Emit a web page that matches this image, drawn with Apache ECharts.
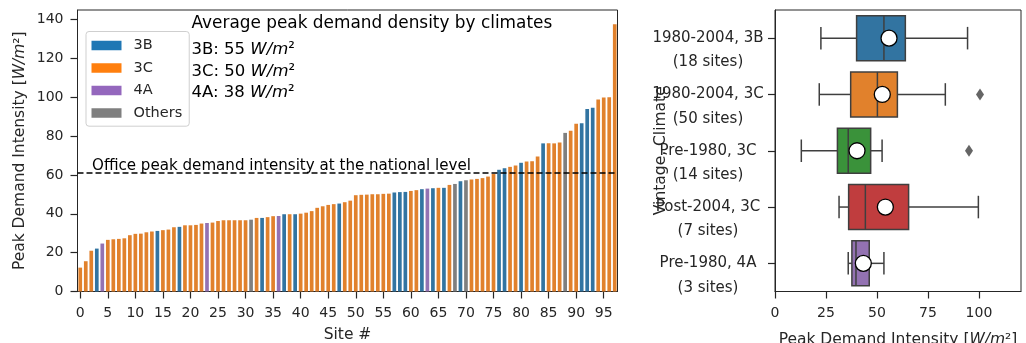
<!DOCTYPE html>
<html><head><meta charset="utf-8">
<script src="https://cdn.jsdelivr.net/npm/echarts@6/dist/echarts.min.js"></script>
<style>html,body{margin:0;padding:0;background:#fff}#c{width:1026px;height:343px}</style>
</head><body><div id="c"></div>
<script>
// ---------- data: left bar chart ----------
const siteValues = [
  12.3,15.6,21.0,22.1,24.7,26.6,26.9,27.1,27.4,29.0,
  29.7,29.8,30.5,30.9,31.2,31.6,31.9,33.1,33.3,34.1,
  34.1,34.3,35.0,35.3,35.5,36.3,36.7,36.7,36.7,36.7,
  36.7,37.0,37.9,37.9,38.3,38.8,38.9,39.8,39.8,39.8,
  40.1,40.6,41.4,43.1,43.9,44.6,45.0,45.3,46.0,46.8,
  49.6,49.8,49.9,50.1,50.1,50.3,50.4,51.0,51.2,51.3,
  51.8,52.2,52.7,53.0,53.2,53.4,53.4,54.9,55.4,56.8,
  57.3,57.7,58.0,58.4,59.2,60.5,62.7,63.5,64.2,64.9,
  66.3,67.0,67.1,69.5,76.3,76.3,76.3,76.8,81.7,82.8,
  86.4,86.7,94.0,94.6,98.9,99.9,100.1,137.6
];
const siteClimates = [
  '3C','3C','3C','3B','4A','3C','3C','3C','3C','3C',
  '3C','3C','3C','3C','3B','3C','3C','3C','3B','3C',
  '3C','3C','3C','4A','3C','3C','3C','3C','3C','3C',
  '3C','Others','3C','3B','3C','3C','4A','3B','3C','3B',
  '3C','3C','3C','3C','3C','3C','3C','3B','3C','3C',
  '3C','3C','3C','3C','3C','3C','3C','3B','3B','3B',
  '3C','3C','3B','4A','3B','3C','3B','3C','Others','3B',
  'Others','3C','3C','3C','3C','3C','3B','3B','3C','3C',
  '3B','3C','3C','3C','3B','3C','3C','3C','Others','3C',
  '3C','3B','3B','3B','3C','3C','3C','3C'
];
const climateNames = ['3B','3C','4A','Others'];
const nationalLevel = 61;
const leftYTicks = [0,20,40,60,80,100,120,140];
const averageLines = [['3B','55'],['3C','50'],['4A','38']];

// ---------- data: right box plot ----------
const boxCategories = [
  ['1980-2004, 3B','(18 sites)'],
  ['1980-2004, 3C','(50 sites)'],
  ['Pre-1980, 3C','(14 sites)'],
  ['Post-2004, 3C','(7 sites)'],
  ['Pre-1980, 4A','(3 sites)']
];
// [whisker low, Q1, median, Q3, whisker high]
const boxStats = [
  [22.5,40.0,53.4,63.9,94.4],
  [21.7,37.1,50.2,60.0,83.5],
  [12.9,30.6,35.9,46.9,52.5],
  [31.4,36.1,44.3,65.5,99.7],
  [35.9,37.7,39.7,46.2,53.4]
];
const boxMeans = [55.9,52.6,40.2,54.1,43.3];
const boxOutliers = [[100.5,1],[95.1,2]];
const rightXTicks = [0,25,50,75,100];

// ---------- styles ----------
const FONT = 'DejaVu Sans';
const INK = '#262626';
const barColors = {'3B':'#3274a1','3C':'#e1812c','4A':'#9372b2','Others':'#7f7f7f'};
const legendColors = {'3B':'#1f77b4','3C':'#ff7f0e','4A':'#9467bd','Others':'#7f7f7f'};
const boxColors = ['#3274a1','#e1812c','#3a923a','#c03d3e','#9372b2'];
const LINE = '#3f3f3f';

const siteIds = siteValues.map((v,i)=>String(i));

const barSeries = climateNames.map(c => ({
  name: c, type: 'bar', xAxisIndex: 0, yAxisIndex: 0,
  barWidth: '67%', barGap: '-100%',
  itemStyle: {color: barColors[c]},
  data: siteValues.map((v,i)=> siteClimates[i]===c ? v : '-'),
  animation: false
}));
barSeries[1].markLine = {
  silent: true, symbol: 'none', animation: false,
  label: {show: false},
  lineStyle: {type: [6,3], color: '#000', width: 1.5},
  data: [{yAxis: nationalLevel}]
};

const unitRich = (size) => ({
  i: {fontStyle: 'italic', fontSize: size, fontFamily: FONT, color: INK},
  n: {fontSize: size, fontFamily: FONT, color: INK}
});

function renderBox(params, api) {
  const y = api.value(0);
  const lo = api.coord([api.value(1), y]);
  const q1 = api.coord([api.value(2), y]);
  const md = api.coord([api.value(3), y]);
  const q3 = api.coord([api.value(4), y]);
  const hi = api.coord([api.value(5), y]);
  const band = api.size([0, 1])[1];
  const h = band * 0.8, cy = lo[1], cap = h / 4;
  const ls = {stroke: LINE, lineWidth: 1.5};
  return {type: 'group', children: [
    {type:'line', shape:{x1:lo[0],y1:cy,x2:q1[0],y2:cy}, style:ls},
    {type:'line', shape:{x1:q3[0],y1:cy,x2:hi[0],y2:cy}, style:ls},
    {type:'line', shape:{x1:lo[0],y1:cy-cap,x2:lo[0],y2:cy+cap}, style:ls},
    {type:'line', shape:{x1:hi[0],y1:cy-cap,x2:hi[0],y2:cy+cap}, style:ls},
    {type:'rect', shape:{x:q1[0],y:cy-h/2,width:q3[0]-q1[0],height:h},
      style:{fill: boxColors[params.dataIndex], stroke: LINE, lineWidth: 1.5}},
    {type:'line', shape:{x1:md[0],y1:cy-h/2,x2:md[0],y2:cy+h/2}, style:ls}
  ]};
}

const chart = echarts.init(document.getElementById('c'), null, {renderer: 'canvas'});
const option = {
  animation: false,
  backgroundColor: '#fff',
  textStyle: {fontFamily: FONT},
  grid: [
    {left: 77.5, top: 10, width: 540, bottom: 51.5, show: true, borderColor: INK, borderWidth: 1, containLabel: false, outerBoundsMode: 'none'},
    {left: 775, top: 10, right: 5, bottom: 51.5, show: true, borderColor: INK, borderWidth: 1, containLabel: false, outerBoundsMode: 'none'}
  ],
  legend: {
    orient: 'vertical', left: 86, top: 31.5,
    itemWidth: 30, itemHeight: 9.5, itemGap: 7.5,
    padding: [6.5, 7, 5.7, 5.5],
    borderColor: '#cfcfcf', borderWidth: 1, borderRadius: 3,
    backgroundColor: 'rgba(255,255,255,0.85)',
    selectedMode: false,
    textStyle: {fontSize: 14.5, fontFamily: FONT, color: INK, padding: [0,0,0,7], lineHeight: 15},
    data: climateNames.map(c => ({name: c, icon: 'rect', itemStyle: {color: legendColors[c]}}))
  },
  xAxis: [
    {
      type: 'category', gridIndex: 0, data: siteIds, boundaryGap: true,
      axisLine: {show: true, lineStyle: {color: INK, width: 1}},
      axisTick: {show: true, alignWithLabel: true, interval: 4, length: 7, lineStyle: {color: INK, width: 1.2}},
      axisLabel: {interval: 4, margin: 15, fontSize: 14, color: INK, fontFamily: FONT},
      name: 'Site #', nameLocation: 'middle', nameGap: 35, nameMoveOverlap: false,
      nameTextStyle: {fontSize: 15.5, color: INK, fontFamily: FONT},
      splitLine: {show: false}
    },
    {
      type: 'value', gridIndex: 1, min: 0, max: 120.6,
      axisLine: {show: true, onZero: false, lineStyle: {color: INK, width: 1}},
      axisTick: {show: true, length: 7, customValues: rightXTicks, lineStyle: {color: INK, width: 1.2}},
      axisLabel: {customValues: rightXTicks, margin: 15, fontSize: 14, color: INK, fontFamily: FONT},
      splitLine: {show: false},
      name: 'Peak Demand Intensity [{i|W/m}{n|²}]', nameLocation: 'middle', nameGap: 40, nameMoveOverlap: false,
      nameTextStyle: {fontSize: 15.5, color: INK, fontFamily: FONT, rich: unitRich(15.5)}
    }
  ],
  yAxis: [
    {
      type: 'value', gridIndex: 0, min: 0, max: 145,
      axisLine: {show: true, lineStyle: {color: INK, width: 1}},
      axisTick: {show: true, length: 7, customValues: leftYTicks, lineStyle: {color: INK, width: 1.2}},
      axisLabel: {customValues: leftYTicks, margin: 14, fontSize: 14, color: INK, fontFamily: FONT},
      splitLine: {show: false},
      name: 'Peak Demand Intensity [{i|W/m}{n|²}]', nameLocation: 'middle', nameGap: 50, nameRotate: 90, nameMoveOverlap: false,
      nameTextStyle: {fontSize: 15.5, color: INK, fontFamily: FONT, rich: unitRich(15.5)}
    },
    {
      type: 'category', gridIndex: 1, inverse: true,
      data: boxCategories.map(c => c.join('\n')),
      axisLine: {show: true, lineStyle: {color: INK, width: 1}},
      axisTick: {show: true, alignWithLabel: true, length: 7, lineStyle: {color: INK, width: 1.2}},
      axisLabel: {
        interval: 0, margin: 9, align: 'right',
        formatter: (v) => { const p = v.split('\n'); return '{a| }\n{a|' + p[0] + '}\n{a|' + p[1] + '}'; },
        rich: {a: {fontSize: 15, fontFamily: FONT, color: INK, width: 116, align: 'center', lineHeight: 24.3}}
      },
      name: 'Vintage, Climate', nameLocation: 'middle', nameGap: 106, nameRotate: 90, nameMoveOverlap: false,
      nameTextStyle: {fontSize: 15.5, color: INK, fontFamily: FONT}
    }
  ],
  series: barSeries.concat([
    {
      type: 'custom', xAxisIndex: 1, yAxisIndex: 1, renderItem: renderBox,
      encode: {x: [1,2,3,4,5], y: 0},
      data: boxStats.map((s,i) => [i].concat(s)), z: 2
    },
    {
      type: 'scatter', xAxisIndex: 1, yAxisIndex: 1, symbol: 'diamond', symbolSize: [8, 12],
      itemStyle: {color: LINE}, data: boxOutliers, z: 3
    },
    {
      type: 'scatter', xAxisIndex: 1, yAxisIndex: 1, symbol: 'circle', symbolSize: 16,
      itemStyle: {color: '#fff', borderColor: '#000', borderWidth: 1.3, opacity: 1},
      data: boxMeans.map((m,i) => [m, i]), z: 4
    }
  ])
};
chart.setOption(option);

// annotations
const lineY = chart.convertToPixel({yAxisIndex: 0}, nationalLevel);
const graphics = [
  {type: 'text', x: 92, y: lineY - 6.5, z: 10,
    style: {text: 'Office peak demand intensity at the national level', fontSize: 15.1, fontFamily: FONT, fill: '#000', verticalAlign: 'middle', align: 'left'}},
  {type: 'text', x: 191.5, y: 23.5, z: 10,
    style: {text: 'Average peak demand density by climates', fontSize: 16.9, fontFamily: FONT, fill: '#000', verticalAlign: 'middle', align: 'left'}}
];
const avgY = [50, 71.3, 92.5];
averageLines.forEach((a, k) => {
  graphics.push({type: 'text', x: 191.5, y: avgY[k], z: 10,
    style: {text: a[0] + ': ' + a[1] + ' {i|W/m}{s|²}', fontSize: 16.5, fontFamily: FONT, fill: '#000',
      verticalAlign: 'middle', align: 'left',
      rich: {i: {fontStyle: 'italic', fontSize: 16.5, fontFamily: FONT, fill: '#000'},
             s: {fontSize: 16.5, fontFamily: FONT, fill: '#000'}}}});
});
chart.setOption({graphic: graphics});
</script></body></html>
